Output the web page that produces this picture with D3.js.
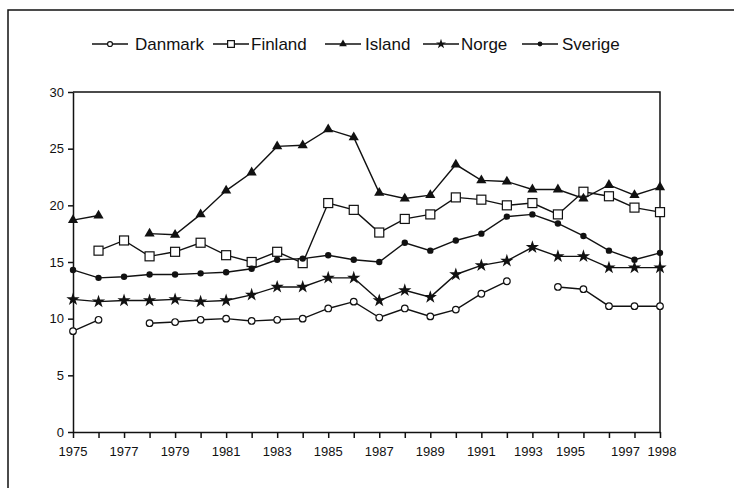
<!DOCTYPE html>
<html>
<head>
<meta charset="utf-8">
<script src="https://cdn.jsdelivr.net/npm/d3@7"></script>
<style>
  body { margin: 0; background: #fff; }
  svg { display: block; font-family: "Liberation Sans", Arial, sans-serif; }
</style>
</head>
<body>
<svg id="chart" width="734" height="488"></svg>
<script>
const years = d3.range(1975, 1999);
const tickLabels = [1975, 1977, 1979, 1981, 1983, 1985, 1987, 1989, 1991, 1993, 1995, 1997, 1998];
const yTicks = [0, 5, 10, 15, 20, 25, 30];

const danmark = [8.9, 9.9, null, 9.6, 9.7, 9.9, 10.0, 9.8, 9.9, 10.0, 10.9, 11.5, 10.1, 10.9, 10.2, 10.8, 12.2, 13.3, null, 12.8, 12.6, 11.1, 11.1, 11.1];
const finland = [null, 16.0, 16.9, 15.5, 15.9, 16.7, 15.6, 15.0, 15.9, 14.9, 20.2, 19.6, 17.6, 18.8, 19.2, 20.7, 20.5, 20.0, 20.2, 19.2, 21.2, 20.8, 19.8, 19.4];
const island = [18.7, 19.1, null, 17.5, 17.4, 19.2, 21.3, 22.9, 25.2, 25.3, 26.7, 26.0, 21.1, 20.6, 20.9, 23.6, 22.2, 22.1, 21.4, 21.4, 20.6, 21.8, 20.9, 21.6];
const norge = [11.7, 11.5, 11.6, 11.6, 11.7, 11.5, 11.6, 12.1, 12.8, 12.8, 13.6, 13.6, 11.6, 12.5, 11.9, 13.9, 14.7, 15.1, 16.3, 15.5, 15.5, 14.5, 14.5, 14.5];
const sverige = [14.3, 13.6, 13.7, 13.9, 13.9, 14.0, 14.1, 14.4, 15.2, 15.3, 15.6, 15.2, 15.0, 16.7, 16.0, 16.9, 17.5, 19.0, 19.2, 18.4, 17.3, 16.0, 15.2, 15.8];

const seriesNames = ["Danmark", "Finland", "Island", "Norge", "Sverige"];
const seriesValues = [danmark, finland, island, norge, sverige];
const markerTypes = ["openCircle", "openSquare", "triangle", "star", "dot"];

const svg = d3.select("#chart");
const ink = "#111";

// outer frame (top and left edges)
svg.append("path").attr("d", "M8,488V10H734").attr("fill", "none").attr("stroke", ink).attr("stroke-width", 1.5);

const m = { left: 73, right: 660, top: 92, bottom: 432 };
const x = d3.scaleLinear().domain([1975, 1998]).range([m.left, m.right]);
const y = d3.scaleLinear().domain([0, 30]).range([m.bottom, m.top]);

// plot frame
svg.append("path")
  .attr("d", `M${m.left},${m.top}H${m.right}V${m.bottom}`)
  .attr("fill", "none").attr("stroke", ink).attr("stroke-width", 1.5);

// x axis
const xAxis = svg.append("g").attr("transform", `translate(0,${m.bottom})`)
  .call(d3.axisBottom(x).tickValues(years).tickFormat("").tickSize(6).tickSizeOuter(0));
xAxis.selectAll("path,line").attr("stroke", ink).attr("stroke-width", 1.5);
// the original hand-set labels sit slightly left near the right end
const labelShift = { 1993: -4, 1995: -13, 1997: -9, 1998: 2 };
svg.append("g").selectAll("text").data(tickLabels).join("text")
  .attr("x", d => x(d)).attr("dx", d => labelShift[d] || 0).attr("y", m.bottom + 24)
  .attr("text-anchor", "middle").attr("font-size", 13).attr("fill", ink)
  .text(d => d);

// y axis
const yAxis = svg.append("g").attr("transform", `translate(${m.left},0)`)
  .call(d3.axisLeft(y).tickValues(yTicks).tickSize(5).tickSizeOuter(0).tickPadding(4));
yAxis.selectAll("path,line").attr("stroke", ink).attr("stroke-width", 1.5);
yAxis.selectAll("text").attr("font-size", 13).attr("fill", ink).attr("font-family", "Liberation Sans, Arial, sans-serif");

function drawMarker(g, type, scale) {
  const s = scale || 1;
  if (type === "openCircle") {
    g.append("circle").attr("r", 3.3 * s).attr("fill", "#fff").attr("stroke", ink).attr("stroke-width", 1.2);
  } else if (type === "openSquare") {
    g.append("rect").attr("x", -4.5 * s).attr("y", -4.5 * s).attr("width", 9 * s).attr("height", 9 * s)
      .attr("fill", "#fff").attr("stroke", ink).attr("stroke-width", 1.2);
  } else if (type === "triangle") {
    g.append("path").attr("d", d3.symbol(d3.symbolTriangle, 45 * s * s)()).attr("fill", ink);
  } else if (type === "star") {
    g.append("path").attr("d", d3.symbol(d3.symbolStar, 55 * s * s)()).attr("fill", ink);
  } else if (type === "dot") {
    g.append("circle").attr("r", 3.2 * s).attr("fill", ink);
  }
}

const line = d3.line()
  .defined(d => d.v !== null)
  .x(d => x(d.year)).y(d => y(d.v));

seriesValues.forEach((vals, i) => {
  const data = years.map((yr, j) => ({ year: yr, v: vals[j] }));
  svg.append("path").datum(data).attr("d", line)
    .attr("fill", "none").attr("stroke", ink).attr("stroke-width", 1.4);
  data.filter(d => d.v !== null).forEach(d => {
    const g = svg.append("g").attr("transform", `translate(${x(d.year)},${y(d.v)})`);
    drawMarker(g, markerTypes[i]);
  });
});

// legend
const legendItems = [
  { lx: 92, tx: 135 },
  { lx: 213, tx: 251 },
  { lx: 325, tx: 365 },
  { lx: 423, tx: 461 },
  { lx: 522, tx: 562 }
];
const ly = 44;
seriesNames.forEach((name, i) => {
  const it = legendItems[i];
  svg.append("line").attr("x1", it.lx).attr("x2", it.lx + 36).attr("y1", ly).attr("y2", ly)
    .attr("stroke", ink).attr("stroke-width", 1.5);
  const g = svg.append("g").attr("transform", `translate(${it.lx + 18},${ly})`);
  drawMarker(g, markerTypes[i], 0.75);
  svg.append("text").attr("x", it.tx).attr("y", ly + 6).attr("font-size", 17).attr("fill", ink).text(name);
});
</script>
</body>
</html>
